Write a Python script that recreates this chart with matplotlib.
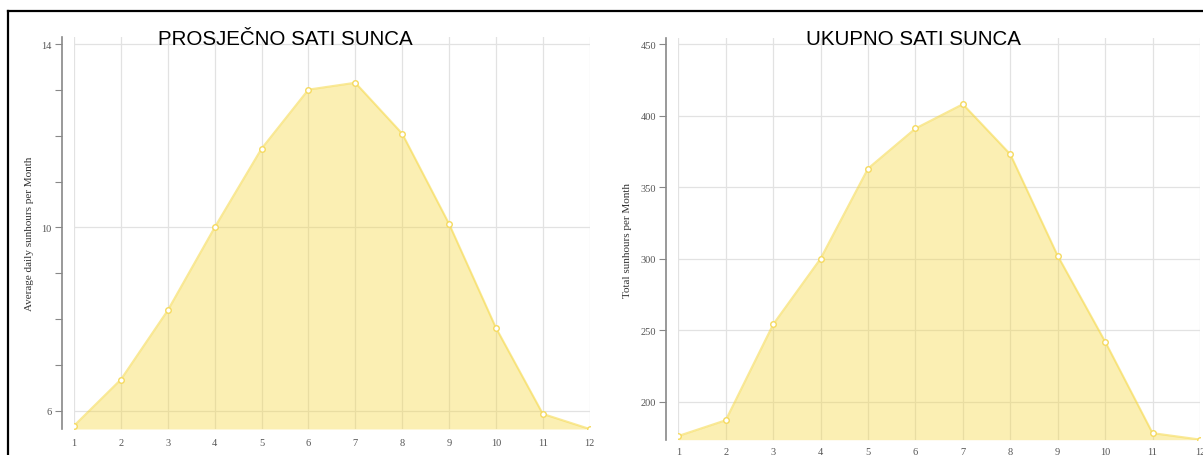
import matplotlib
matplotlib.use('Agg')
import matplotlib.pyplot as plt
from matplotlib.lines import Line2D
from matplotlib.ticker import FixedLocator

# Podaci
mjeseci = [1, 2, 3, 4, 5, 6, 7, 8, 9, 10, 11, 12]
prosjek_sati = [5.67, 6.68, 8.19, 10.0, 11.72, 13.01, 13.16, 12.05, 10.08, 7.81, 5.93, 5.6]
ukupno_sati = [176, 187, 254, 300, 363, 391, 408, 373, 302, 242, 178, 173.5]

naslov_lijevo = 'PROSJEČNO SATI SUNCA'
naslov_desno = 'UKUPNO SATI SUNCA'
oznaka_lijevo = 'Average daily sunhours per Month'
oznaka_desno = 'Total sunhours per Month'

y_lijevo = [6, 10, 14]
y_lijevo_minor = [7, 8, 9, 11, 12, 13]
y_desno = [200, 250, 300, 350, 400, 450]

zuta = '#F5D742'
siva = '#555555'

W, H = 1203, 456
fig = plt.figure(figsize=(W / 100, H / 100), dpi=100)


def crtaj(ax, y, ylim, major, minor, naslov, oznaka, label_x, naslov_x, xpad):
    ax.fill_between(mjeseci, y, ylim[0], color=zuta, alpha=0.4, linewidth=0, zorder=2)
    ax.plot(mjeseci, y, color=zuta, alpha=0.55, linewidth=1.5, zorder=3)
    ax.plot(mjeseci, y, linestyle='none', marker='o', markersize=4,
            markerfacecolor='white', markeredgecolor='#F5DA60', markeredgewidth=1, zorder=4)
    ax.set_xlim(1, 12)
    ax.set_ylim(*ylim)
    ax.set_xticks(mjeseci)
    ax.yaxis.set_major_locator(FixedLocator(major))
    if minor:
        ax.yaxis.set_minor_locator(FixedLocator(minor))
    ax.grid(True, which='major', color='#e2e2e2', linewidth=0.9, zorder=0)
    ax.set_axisbelow(True)
    for s in ['top', 'right', 'bottom']:
        ax.spines[s].set_visible(False)
    ax.spines['left'].set_position(('outward', 9))
    ax.spines['left'].set_color('#888888')
    ax.spines['left'].set_linewidth(1.2)
    ax.tick_params(axis='y', which='both', length=5, width=0.8, color='#888888',
                   labelsize=7.5, labelcolor=siva, pad=2)
    ax.tick_params(axis='x', length=0, labelsize=7.5, labelcolor=siva, pad=xpad)
    for t in ax.get_xticklabels() + ax.get_yticklabels():
        t.set_family('Liberation Serif')
    ax.set_ylabel(oznaka, fontsize=8, color='#333333', family='Liberation Serif')
    ax.yaxis.set_label_coords(label_x, 0.5)
    fig.text(naslov_x / W, 1 - 45 / H, naslov, ha='center', va='baseline',
             fontsize=14.8, family='Liberation Sans', color='black')


ax1 = fig.add_axes([74 / W, 1 - 430 / H, 515.7 / W, 391.6 / H])
crtaj(ax1, prosjek_sati, (5.6, 14.15), y_lijevo, y_lijevo_minor,
      naslov_lijevo, oznaka_lijevo, -0.077, 285.5, 6.5)

ax2 = fig.add_axes([678.3 / W, 1 - 440.7 / H, 521.7 / W, 401.3 / H])
crtaj(ax2, ukupno_sati, (173.4, 454), y_desno, None,
      naslov_desno, oznaka_desno, -0.0885, 913, 5)

# okvir snimke zaslona
fig.add_artist(Line2D([8 / W, 1], [1 - 12 / H, 1 - 12 / H], color='black', linewidth=1.6))
fig.add_artist(Line2D([8 / W, 8 / W], [0, 1 - 12 / H], color='black', linewidth=1.6))

fig.savefig('out.png', dpi=100)
